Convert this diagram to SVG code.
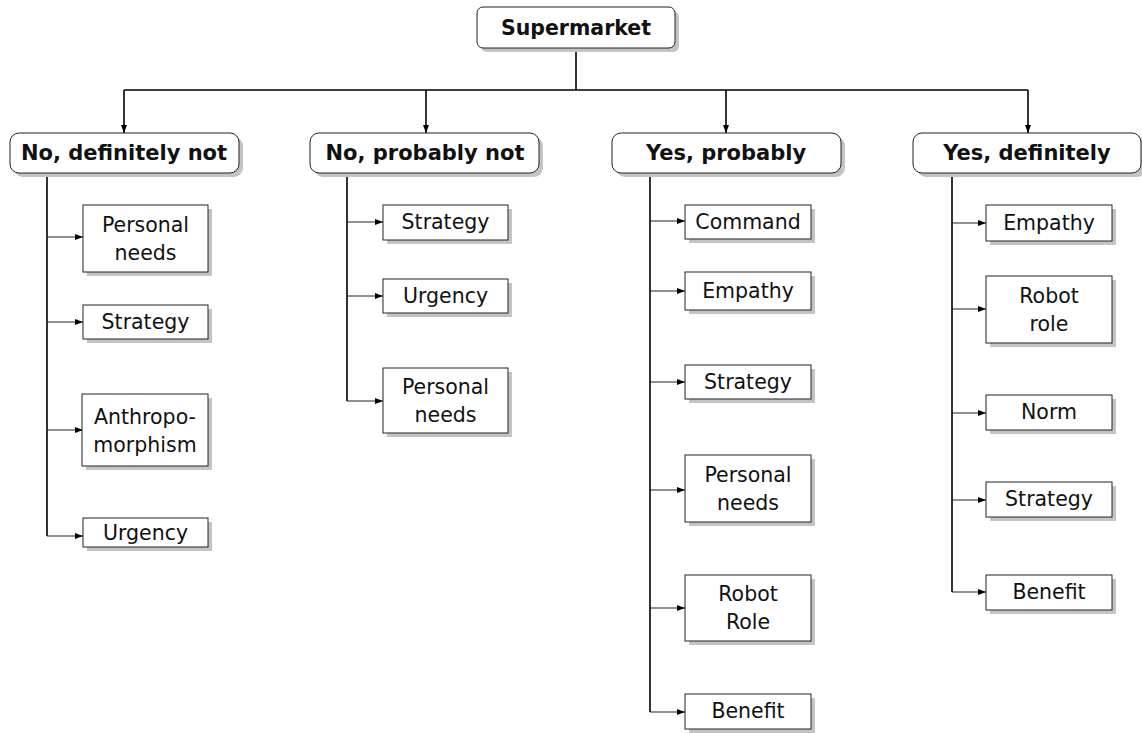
<svg xmlns="http://www.w3.org/2000/svg" width="1142" height="733" viewBox="0 0 1142 733">
<style>
text{font-family:"DejaVu Sans","Liberation Sans",sans-serif;fill:#111;text-anchor:middle}
.t0{font-size:20.5px;font-weight:bold}
.t1{font-size:21px;font-weight:bold}
.t2{font-size:20.5px}
.sh{fill:#c4c4c4}
.bx{fill:#fff;stroke:#222;stroke-width:1}
.rb{fill:#fff;stroke:#222;stroke-width:1}
.trunk{fill:none;stroke:#000;stroke-width:1.6}
.br{fill:none;stroke:#222;stroke-width:1}
</style>
<defs>
<marker id="ah" markerWidth="8" markerHeight="6" refX="8" refY="3" orient="auto" markerUnits="userSpaceOnUse"><path d="M0,0 L8,3 L0,6 z" fill="#000"/></marker>
</defs>
<g id="connectors">
<path class="trunk" d="M576,48 V90 M124,90 H1028"/>
<path class="trunk" d="M124,90 V133" marker-end="url(#ah)"/>
<path class="trunk" d="M426,90 V133" marker-end="url(#ah)"/>
<path class="trunk" d="M726,90 V133" marker-end="url(#ah)"/>
<path class="trunk" d="M1028,90 V133" marker-end="url(#ah)"/>
<path class="trunk" d="M47,173 V536 M347,173 V401 M650,173 V712 M952,173 V592"/>
<g class="br">
<path d="M47,237 H83" marker-end="url(#ah)"/>
<path d="M47,322 H83" marker-end="url(#ah)"/>
<path d="M47,430 H83" marker-end="url(#ah)"/>
<path d="M47,536 H83" marker-end="url(#ah)"/>
<path d="M347,222 H383" marker-end="url(#ah)"/>
<path d="M347,296 H383" marker-end="url(#ah)"/>
<path d="M347,401 H383" marker-end="url(#ah)"/>
<path d="M650,221 H685" marker-end="url(#ah)"/>
<path d="M650,291 H685" marker-end="url(#ah)"/>
<path d="M650,382 H685" marker-end="url(#ah)"/>
<path d="M650,490 H685" marker-end="url(#ah)"/>
<path d="M650,608 H685" marker-end="url(#ah)"/>
<path d="M650,712 H685" marker-end="url(#ah)"/>
<path d="M952,223 H986" marker-end="url(#ah)"/>
<path d="M952,309 H986" marker-end="url(#ah)"/>
<path d="M952,413 H986" marker-end="url(#ah)"/>
<path d="M952,500 H986" marker-end="url(#ah)"/>
<path d="M952,592 H986" marker-end="url(#ah)"/>
</g>
</g>
<g id="root"><rect class="sh" x="481" y="11" width="198" height="41" rx="6"/><rect class="rb" x="477" y="7" width="198" height="41" rx="6"/><text class="t0" x="576" y="35">Supermarket</text></g>
<g id="n1"><rect class="sh" x="14" y="137" width="229" height="40" rx="9"/><rect class="rb" x="10" y="133" width="229" height="40" rx="9"/><text class="t1" x="124" y="160">No, definitely not</text></g>
<g id="n2"><rect class="sh" x="314" y="137" width="229" height="40" rx="9"/><rect class="rb" x="310" y="133" width="229" height="40" rx="9"/><text class="t1" x="425" y="160">No, probably not</text></g>
<g id="n3"><rect class="sh" x="616" y="137" width="229" height="40" rx="9"/><rect class="rb" x="612" y="133" width="229" height="40" rx="9"/><text class="t1" x="726" y="160">Yes, probably</text></g>
<g id="n4"><rect class="sh" x="917" y="137" width="229" height="40" rx="9"/><rect class="rb" x="913" y="133" width="228" height="40" rx="9"/><text class="t1" x="1027" y="160">Yes, definitely</text></g>

<g id="c1a"><rect class="sh" x="87" y="209" width="125" height="67"/><rect class="bx" x="83" y="205" width="125" height="67"/><text class="t2" x="145.5" y="232">Personal</text><text class="t2" x="145.5" y="260">needs</text></g>
<g id="c1b"><rect class="sh" x="87" y="309" width="125" height="34"/><rect class="bx" x="83" y="305" width="125" height="34"/><text class="t2" x="145.5" y="329">Strategy</text></g>
<g id="c1c"><rect class="sh" x="86" y="398" width="126" height="72"/><rect class="bx" x="82" y="394" width="126" height="72"/><text class="t2" x="145" y="424">Anthropo-</text><text class="t2" x="145" y="452">morphism</text></g>
<g id="c1d"><rect class="sh" x="87" y="522" width="125" height="29"/><rect class="bx" x="83" y="518" width="125" height="29"/><text class="t2" x="145.5" y="540">Urgency</text></g>

<g id="c2a"><rect class="sh" x="387" y="209" width="125" height="35"/><rect class="bx" x="383" y="205" width="125" height="35"/><text class="t2" x="445.5" y="229">Strategy</text></g>
<g id="c2b"><rect class="sh" x="387" y="283" width="125" height="34"/><rect class="bx" x="383" y="279" width="125" height="34"/><text class="t2" x="445.5" y="303">Urgency</text></g>
<g id="c2c"><rect class="sh" x="387" y="372" width="125" height="65"/><rect class="bx" x="383" y="368" width="125" height="65"/><text class="t2" x="445.5" y="394">Personal</text><text class="t2" x="445.5" y="422">needs</text></g>

<g id="c3a"><rect class="sh" x="689" y="209" width="126" height="34"/><rect class="bx" x="685" y="205" width="126" height="34"/><text class="t2" x="748" y="229">Command</text></g>
<g id="c3b"><rect class="sh" x="689" y="276" width="126" height="38"/><rect class="bx" x="685" y="272" width="126" height="38"/><text class="t2" x="748" y="298">Empathy</text></g>
<g id="c3c"><rect class="sh" x="689" y="369" width="126" height="34"/><rect class="bx" x="685" y="365" width="126" height="34"/><text class="t2" x="748" y="389">Strategy</text></g>
<g id="c3d"><rect class="sh" x="689" y="459" width="126" height="67"/><rect class="bx" x="685" y="455" width="126" height="67"/><text class="t2" x="748" y="482">Personal</text><text class="t2" x="748" y="510">needs</text></g>
<g id="c3e"><rect class="sh" x="689" y="579" width="126" height="66"/><rect class="bx" x="685" y="575" width="126" height="66"/><text class="t2" x="748" y="601">Robot</text><text class="t2" x="748" y="629">Role</text></g>
<g id="c3f"><rect class="sh" x="689" y="698" width="126" height="35"/><rect class="bx" x="685" y="694" width="126" height="35"/><text class="t2" x="748" y="718">Benefit</text></g>

<g id="c4a"><rect class="sh" x="990" y="209" width="126" height="36"/><rect class="bx" x="986" y="205" width="126" height="36"/><text class="t2" x="1049" y="230">Empathy</text></g>
<g id="c4b"><rect class="sh" x="990" y="280" width="126" height="67"/><rect class="bx" x="986" y="276" width="126" height="67"/><text class="t2" x="1049" y="303">Robot</text><text class="t2" x="1049" y="331">role</text></g>
<g id="c4c"><rect class="sh" x="990" y="399" width="126" height="35"/><rect class="bx" x="986" y="395" width="126" height="35"/><text class="t2" x="1049" y="419">Norm</text></g>
<g id="c4d"><rect class="sh" x="990" y="486" width="126" height="35"/><rect class="bx" x="986" y="482" width="126" height="35"/><text class="t2" x="1049" y="506">Strategy</text></g>
<g id="c4e"><rect class="sh" x="990" y="579" width="126" height="35"/><rect class="bx" x="986" y="575" width="126" height="35"/><text class="t2" x="1049" y="599">Benefit</text></g>
</svg>
